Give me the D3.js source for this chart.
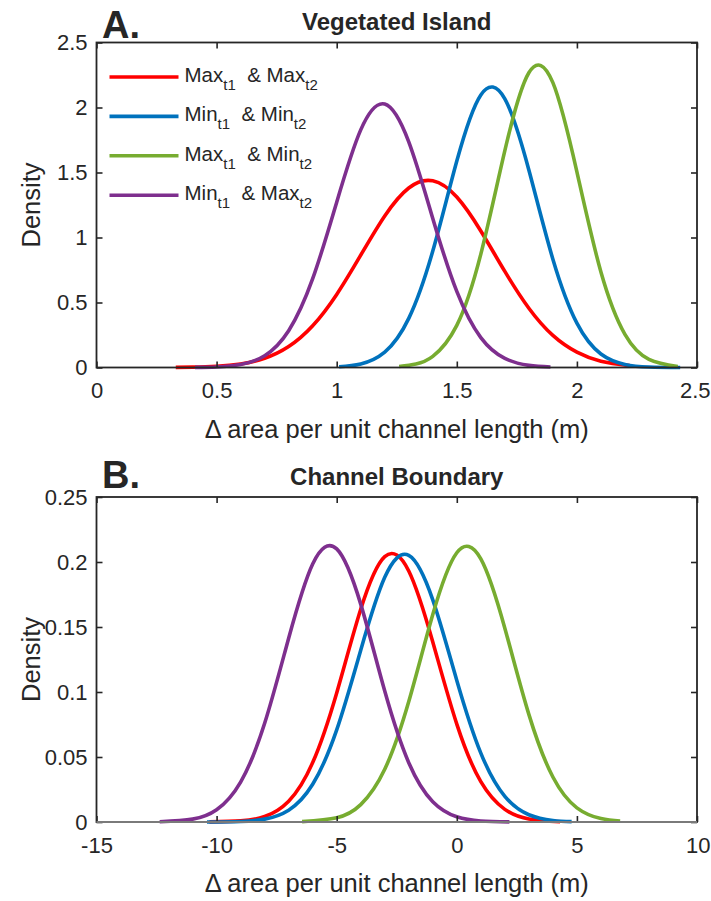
<!DOCTYPE html>
<html><head><meta charset="utf-8">
<script src="https://cdn.jsdelivr.net/npm/d3@7"></script>
<style>
body{margin:0;background:#fff}
svg{display:block}
text{font-family:"Liberation Sans",Arial,Helvetica,sans-serif;fill:#262626}
</style>
</head><body>
<svg id="chart" width="711" height="901"></svg>
<script>
// ---------------- data ----------------
const seriesColors = ["#FF0000", "#0072BD", "#77AC30", "#7E2F8E"];
const legendParts = [["Max", "Max"], ["Min", "Min"], ["Max", "Min"], ["Min", "Max"]];

const islandXTicks = [0, 0.5, 1, 1.5, 2, 2.5];
const islandXLabels = ["0", "0.5", "1", "1.5", "2", "2.5"];
const islandYTicks = [0, 0.5, 1, 1.5, 2, 2.5];
const islandYLabels = ["0", "0.5", "1", "1.5", "2", "2.5"];
const boundaryXTicks = [-15, -10, -5, 0, 5, 10];
const boundaryXLabels = ["-15", "-10", "-5", "0", "5", "10"];
const boundaryYTicks = [0, 0.05, 0.1, 0.15, 0.2, 0.25];
const boundaryYLabels = ["0", "0.05", "0.1", "0.15", "0.2", "0.25"];

// Panel A: Vegetated Island  [x, density]
const islandMaxMax = [[0.33,0.0011],[0.4,0.0028],[0.5,0.0093],[0.6,0.0273],[0.7,0.0708],[0.8,0.161],[0.9,0.321],[1.0,0.562],[1.1,0.864],[1.2,1.166],[1.3,1.381],[1.4,1.436],[1.5,1.311],[1.6,1.050],[1.7,0.739],[1.8,0.456],[1.9,0.247],[2.0,0.118],[2.1,0.049],[2.22,0.0145]];
const islandMinMin = [[1.01,0.0059],[1.1,0.0278],[1.2,0.119],[1.3,0.378],[1.4,0.896],[1.5,1.588],[1.6,2.097],[1.7,2.066],[1.8,1.519],[1.9,0.833],[2.0,0.341],[2.1,0.104],[2.2,0.0237],[2.3,0.0040],[2.43,0.0003]];
const islandMaxMin = [[1.26,0.0075],[1.33,0.0276],[1.4,0.0857],[1.5,0.324],[1.6,0.872],[1.7,1.668],[1.8,2.267],[1.9,2.191],[2.0,1.505],[2.1,0.735],[2.2,0.255],[2.3,0.063],[2.42,0.0075]];
const islandMinMax = [[0.41,0.0008],[0.5,0.0043],[0.6,0.0224],[0.7,0.0906],[0.8,0.283],[0.9,0.683],[1.0,1.272],[1.1,1.828],[1.2,2.027],[1.3,1.736],[1.4,1.147],[1.5,0.585],[1.6,0.230],[1.7,0.070],[1.8,0.0164],[1.89,0.0036]];

// Panel B: Channel Boundary  [x, density]
const boundaryMaxMax = [[-10.3,0.0001],[-9,0.0009],[-8,0.0042],[-7,0.0160],[-6,0.0457],[-5,0.0993],[-4,0.1636],[-3,0.2041],[-2,0.1931],[-1,0.1385],[0,0.0753],[1,0.0310],[2,0.0097],[3,0.0023],[4.3,0.0002]];
const boundaryMinMin = [[-10.4,0.0],[-9,0.0004],[-8,0.0022],[-7,0.0091],[-6,0.0290],[-5,0.0708],[-4,0.1321],[-3,0.1882],[-2,0.2051],[-1,0.1709],[0,0.1089],[1,0.0530],[2,0.0197],[3,0.0056],[4,0.0012],[4.78,0.0003]];
const boundaryMaxMin = [[-6.44,0.0003],[-5,0.0033],[-4,0.0134],[-3,0.0406],[-2,0.0927],[-1,0.1596],[0,0.2071],[1,0.2024],[2,0.1491],[3,0.0828],[4,0.0346],[5,0.0109],[6,0.0026],[6.8,0.0007]];
const boundaryMinMax = [[-12.37,0.0002],[-11,0.0022],[-10,0.0094],[-9,0.0307],[-8,0.0759],[-7,0.1414],[-6,0.1985],[-5,0.2101],[-4,0.1676],[-3,0.1007],[-2,0.0456],[-1,0.0156],[0,0.0040],[1,0.0008],[2.19,0.0001]];

// ---------------- drawing ----------------
const svg = d3.select("#chart");
const AX = "#262626";
const LEFT = 96.5, RIGHT = 697;
const TICK_FS = 22, LABEL_FS = 25.5, TITLE_FS = 24, LETTER_FS = 38;

function panel(cfg) {
  const x = d3.scaleLinear().domain(cfg.xDomain).range([LEFT, RIGHT]);
  const y = d3.scaleLinear().domain(cfg.yDomain).range([cfg.bottom, cfg.top]);
  const g = svg.append("g");

  // curves
  const line = d3.line().x(d => x(d[0])).y(d => y(d[1])).curve(d3.curveNatural);
  cfg.series.forEach((s, i) => {
    g.append("path").datum(s).attr("d", line)
      .attr("fill", "none").attr("stroke", seriesColors[i])
      .attr("stroke-width", 3.6).attr("stroke-linejoin", "round").attr("stroke-linecap", "butt");
  });

  // axes (ticks inward on all sides)
  const xb = g.append("g").attr("transform", `translate(0,${cfg.bottom})`)
    .call(d3.axisBottom(x).tickValues(cfg.xTicks).tickFormat((d, i) => cfg.xLabels[i]).tickSizeInner(-6).tickSizeOuter(0).tickPadding(13));
  const xt = g.append("g").attr("transform", `translate(0,${cfg.top})`)
    .call(d3.axisTop(x).tickValues(cfg.xTicks).tickFormat("").tickSizeInner(-6).tickSizeOuter(0));
  const yl = g.append("g").attr("transform", `translate(${LEFT},0)`)
    .call(d3.axisLeft(y).tickValues(cfg.yTicks).tickFormat((d, i) => cfg.yLabels[i]).tickSizeInner(-6).tickSizeOuter(0).tickPadding(9));
  const yr = g.append("g").attr("transform", `translate(${RIGHT},0)`)
    .call(d3.axisRight(y).tickValues(cfg.yTicks).tickFormat("").tickSizeInner(-6).tickSizeOuter(0));
  [xb, xt, yl, yr].forEach(a => {
    a.select(".domain").remove();
    a.selectAll(".tick line").attr("stroke", AX).attr("stroke-width", 1.6);
    a.selectAll(".tick text").attr("font-family", '"Liberation Sans",Arial,sans-serif').attr("font-size", TICK_FS).attr("fill", AX);
  });
  xb.selectAll(".tick text").attr("dy", "0.8em");
  // keep the right-most tick label inside the page
  xb.selectAll(".tick text").filter((d, i, n) => i === n.length - 1).attr("text-anchor", "end").attr("dx", 13);

  // box
  g.append("rect").attr("x", LEFT).attr("y", cfg.top).attr("width", RIGHT - LEFT).attr("height", cfg.bottom - cfg.top)
    .attr("fill", "none").attr("stroke", AX).attr("stroke-width", 1.8);
  if (cfg.grayBase) {
    g.append("line").attr("x1", LEFT).attr("x2", RIGHT).attr("y1", cfg.bottom).attr("y2", cfg.bottom)
      .attr("stroke", "#7a7a7a").attr("stroke-width", 1.8);
  }

  // labels
  g.append("text").attr("x", (LEFT + RIGHT) / 2).attr("y", cfg.bottom + 70).attr("text-anchor", "middle")
    .attr("font-size", LABEL_FS).text("\u0394 area per unit channel length (m)");
  g.append("text").attr("transform", `translate(40,${(cfg.top + cfg.bottom) / 2}) rotate(-90)`)
    .attr("text-anchor", "middle").attr("font-size", LABEL_FS).text("Density");
  g.append("text").attr("x", (LEFT + RIGHT) / 2).attr("y", cfg.top - 12.5).attr("text-anchor", "middle")
    .attr("font-size", TITLE_FS).attr("font-weight", "bold").attr("fill", "#000").text(cfg.title);
  g.append("text").attr("x", 102).attr("y", cfg.letterY).attr("font-size", LETTER_FS)
    .attr("font-weight", "bold").attr("fill", "#000").text(cfg.letter);

  // legend
  if (cfg.legend) {
    const lg = g.append("g");
    legendParts.forEach((p, i) => {
      const yy = 77 + i * 39.4;
      lg.append("line").attr("x1", 109.5).attr("x2", 178.5).attr("y1", yy).attr("y2", yy)
        .attr("stroke", seriesColors[i]).attr("stroke-width", 3.6);
      const t = lg.append("text").attr("x", 184.5).attr("y", yy + 5).attr("font-size", 20.5).attr("fill", "#000");
      t.append("tspan").text(p[0]);
      t.append("tspan").attr("dy", 8).attr("font-size", 15).text("t1");
      t.append("tspan").attr("dy", -8).text("\u00a0 & " + p[1]);
      t.append("tspan").attr("dy", 8).attr("font-size", 15).text("t2");
    });
  }
}

panel({
  top: 42.5, bottom: 367.5, xDomain: [0, 2.5], yDomain: [0, 2.5],
  xTicks: islandXTicks, xLabels: islandXLabels, yTicks: islandYTicks, yLabels: islandYLabels,
  series: [islandMaxMax, islandMinMin, islandMaxMin, islandMinMax],
  title: "Vegetated Island", letter: "A.", letterY: 37.5, legend: true
});
panel({
  top: 497, bottom: 822, xDomain: [-15, 10], yDomain: [0, 0.25],
  xTicks: boundaryXTicks, xLabels: boundaryXLabels, yTicks: boundaryYTicks, yLabels: boundaryYLabels,
  series: [boundaryMaxMax, boundaryMinMin, boundaryMaxMin, boundaryMinMax],
  title: "Channel Boundary", letter: "B.", letterY: 487.5, legend: false, grayBase: true
});
</script>
</body></html>
